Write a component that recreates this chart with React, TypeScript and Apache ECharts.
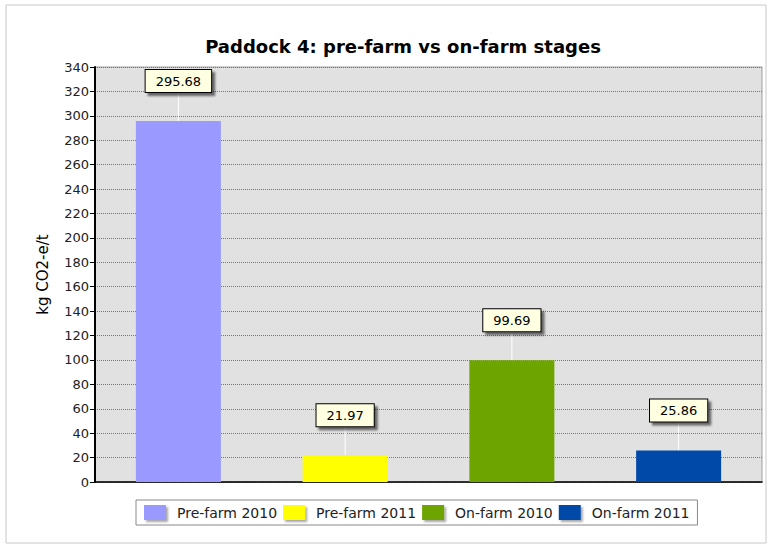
import React, { useEffect, useRef } from "react";
import * as echarts from "echarts";

const categories = ["Pre-farm 2010", "Pre-farm 2011", "On-farm 2010", "On-farm 2011"];
const values = [295.68, 21.97, 99.69, 25.86];
const colors = ["#9999ff", "#ffff00", "#6ea400", "#0049a8"];
const titleText = "Paddock 4: pre-farm vs on-farm stages";
const yAxisName = "kg CO2-e/t";

const FONT = "DejaVu Sans, Verdana, sans-serif";

export default function App() {
  const ref = useRef<HTMLDivElement>(null);
  useEffect(() => {
    const chart = echarts.init(ref.current!, null, { renderer: "svg" });
    const series = categories.map((name, i) => ({
      name,
      type: "bar",
      stack: "all",
      barWidth: 85,
      itemStyle: { color: colors[i] },
      data: categories.map((_, j) => (j === i ? values[i] : "-")),
      label: {
        show: true,
        position: "top",
        distance: 0,
        formatter: (p: any) => p.value.toFixed(2),
        fontFamily: FONT,
        fontSize: 13,
        color: "#000",
        backgroundColor: "#ffffe1",
        borderColor: "#000",
        borderWidth: 1,
        padding: [5, 10, 4, 10],
        shadowColor: "rgba(0,0,0,0.55)",
        shadowOffsetX: 3,
        shadowOffsetY: 3,
        shadowBlur: 2,
      },
      labelLayout: { dy: -29 },
      labelLine: { show: true, lineStyle: { color: "#ffffff", width: 1 } },
    }));
    chart.setOption({
      animation: false,
      backgroundColor: "#ffffff",
      title: {
        text: titleText,
        left: 398,
        textAlign: "center",
        top: 32,
        textStyle: { fontFamily: FONT, fontSize: 18, fontWeight: "bold", color: "#000" },
      },
      graphic: [
        {
          type: "rect",
          shape: { x: 6, y: 5, width: 760, height: 538 },
          style: { fill: "none", stroke: "#c8c8c8", lineWidth: 1 },
          silent: true,
          z: -1,
        },
      ],
      legend: {
        left: 136,
        top: 500,
        itemWidth: 22,
        itemHeight: 15,
        itemGap: 6,
        icon: "rect",
        padding: [5, 8, 5, 8],
        borderColor: "#888",
        borderWidth: 1,
        backgroundColor: "#fff",
        itemStyle: { shadowColor: "rgba(0,0,0,0.35)", shadowOffsetX: 2, shadowOffsetY: 2, shadowBlur: 2 },
        textStyle: { fontFamily: FONT, fontSize: 14, color: "#222", padding: [0, 0, 0, 6] },
        data: categories,
      },
      grid: {
        left: 95,
        right: 10,
        top: 67,
        bottom: 66,
        show: true,
        backgroundColor: "#e1e1e1",
        borderColor: "#a0a0a0",
        borderWidth: 1,
      },
      xAxis: {
        type: "category",
        data: categories,
        axisLine: { lineStyle: { color: "#000", width: 1.5 } },
        axisTick: { show: false },
        axisLabel: { show: false },
      },
      yAxis: {
        type: "value",
        min: 0,
        max: 340,
        interval: 20,
        name: yAxisName,
        nameLocation: "middle",
        nameGap: 45,
        nameTextStyle: { fontFamily: FONT, fontSize: 15, color: "#000" },
        axisLine: { show: true, lineStyle: { color: "#000", width: 2 } },
        axisTick: { show: true, length: 5, lineStyle: { color: "#000" } },
        axisLabel: { fontFamily: FONT, fontSize: 13, color: "#222", margin: 6 },
        splitLine: { show: true, lineStyle: { color: "#777", type: [1, 1], width: 1 } },
      },
      series,
    });
    return () => chart.dispose();
  }, []);
  return <div ref={ref} style={{ width: 772, height: 548, position: "absolute", left: 0, top: 0 }} />;
}
